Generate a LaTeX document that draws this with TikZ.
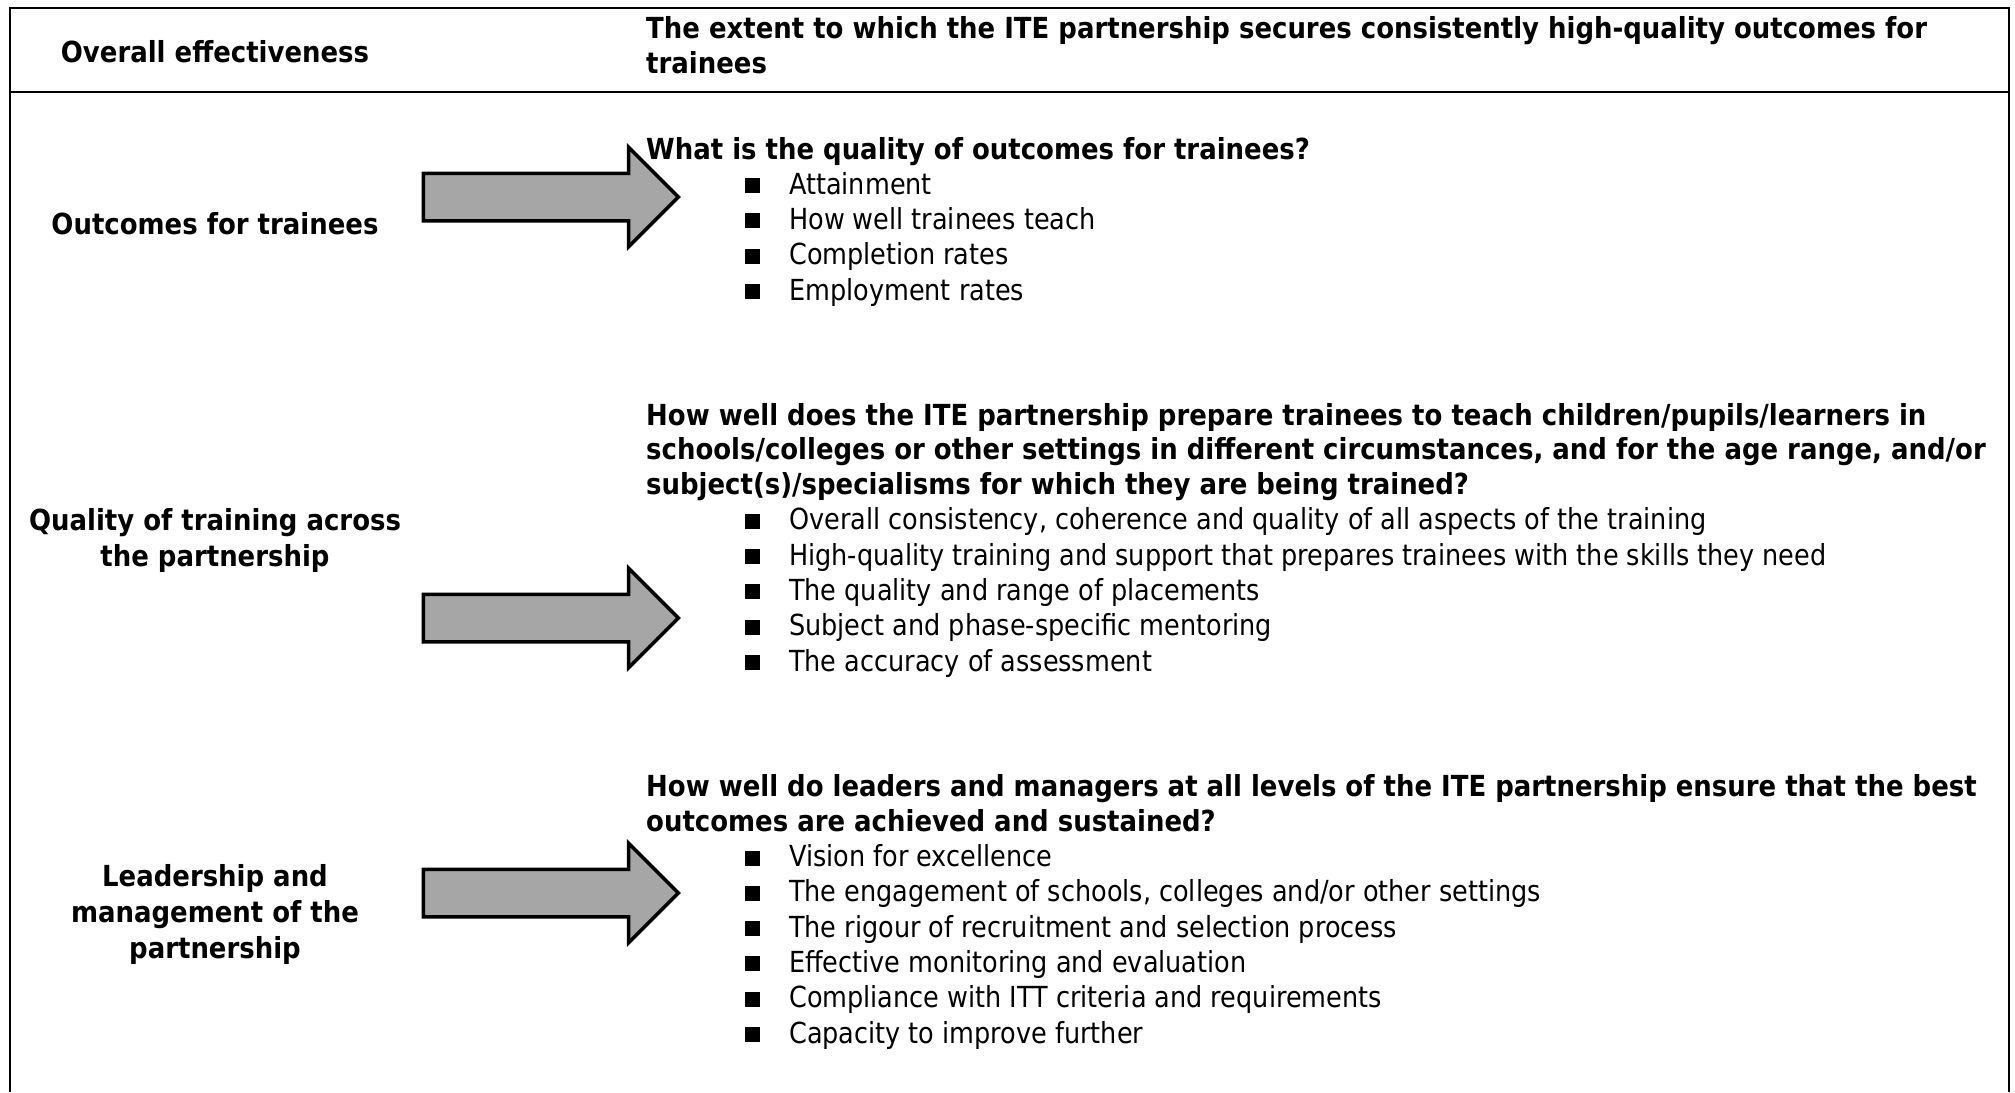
\documentclass[tikz,border=0pt]{standalone}
\usepackage{fontspec}
\setmainfont{DejaVu Sans}[FakeStretch=0.88, BoldFeatures={FakeStretch=0.895}]
\usetikzlibrary{shapes.arrows}

\definecolor{arrowgrey}{RGB}{166,166,166}
\newcommand{\sq}{\rule[1pt]{15pt}{15pt}\hspace{29pt}}

\begin{document}
\begin{tikzpicture}[x=1pt, y=-1pt,
        every node/.style={inner sep=0pt},
        rowlabel/.style={align=center, font=\fontsize{29}{36}\selectfont\bfseries},
        question/.style={align=left, font=\fontsize{29}{34.5}\selectfont\bfseries},
        bullets/.style={align=left, font=\fontsize{29}{35.3}\selectfont},
        bigarrow/.style={single arrow, draw, line width=3.5pt, fill=arrowgrey, inner ysep=22pt,
            minimum height=255pt, minimum width=96pt, single arrow head extend=26pt}]
        \useasboundingbox (0,0) rectangle (2015,1092);

        \draw[line width=2.5pt] (10,1092) -- (10,8) -- (2009,8) -- (2009,1092);
        \draw[line width=2.5pt] (10,92) -- (2009,92);

        % last line baselines
        \node[rowlabel, anchor=base] (overall) at (215,62) {Overall effectiveness};
        \node[question, anchor=base west] (extent) at (646,73)
            {The extent to which the ITE partnership secures consistently high-quality outcomes for\\trainees};

        % outcomes
        \node[rowlabel, anchor=base] (outcomes) at (215,234) {Outcomes for trainees};
        \node[bigarrow] (arrowA) at (539,197) {};
        \node[question, anchor=base west] (qA) at (646,159) {What is the quality of outcomes for trainees?};
        \node[bullets, anchor=base west] (listA) at (745,300)
            {\sq Attainment\\ \sq How well trainees teach\\ \sq Completion rates\\ \sq Employment rates};

        % training
        \node[rowlabel, anchor=base] (training) at (215,566) {Quality of training across\\the partnership};
        \node[bigarrow] (arrowB) at (539,618) {};
        \node[question, anchor=base west] (qB) at (646,494)
            {How well does the ITE partnership prepare trainees to teach children/pupils/learners in\\
             schools/colleges or other settings in different circumstances, and for the age range, and/or\\
             subject(s)/specialisms for which they are being trained?};
        \node[bullets, anchor=base west] (listB) at (745,671)
            {\sq Overall consistency, coherence and quality of all aspects of the training\\
             \sq High-quality training and support that prepares trainees with the skills they need\\
             \sq The quality and range of placements\\
             \sq Subject and phase-specific mentoring\\
             \sq The accuracy of assessment};

        % leadership
        \node[rowlabel, anchor=base] (leadership) at (215,958) {Leadership and\\management of the\\partnership};
        \node[bigarrow] (arrowC) at (539,893) {};
        \node[question, anchor=base west] (qC) at (646,831)
            {How well do leaders and managers at all levels of the ITE partnership ensure that the best\\
             outcomes are achieved and sustained?};
        \node[bullets, anchor=base west] (listC) at (745,1043)
            {\sq Vision for excellence\\
             \sq The engagement of schools, colleges and/or other settings\\
             \sq The rigour of recruitment and selection process\\
             \sq Effective monitoring and evaluation\\
             \sq Compliance with ITT criteria and requirements\\
             \sq Capacity to improve further};
    \end{tikzpicture}
\end{document}
